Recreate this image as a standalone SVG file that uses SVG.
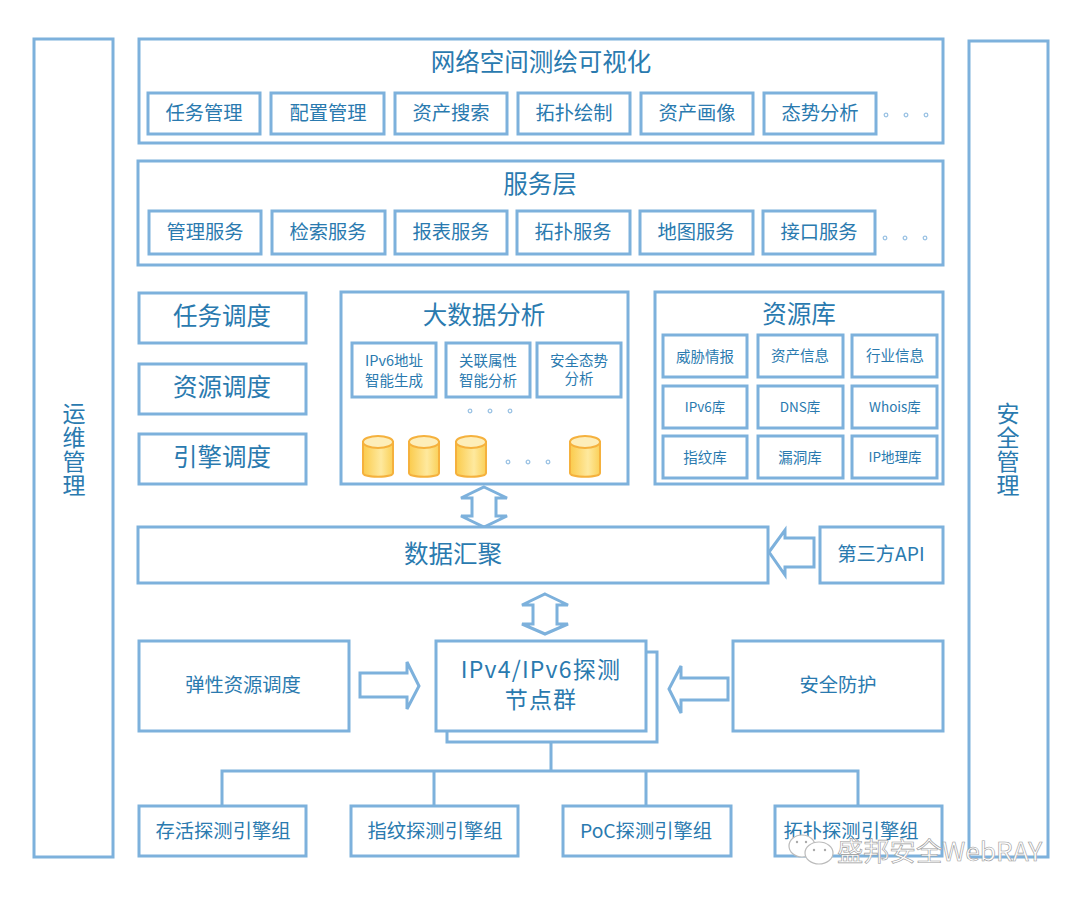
<svg xmlns="http://www.w3.org/2000/svg" width="1080" height="898" viewBox="0 0 1080 898">
<style>
text{font-family:"Noto Sans CJK SC","Noto Sans",sans-serif;fill:#2a7aaf;text-anchor:middle;dominant-baseline:central}
.b{fill:#fff;stroke:#7db1dc;stroke-width:3}
.a{fill:#fff;stroke:#7db1dc;stroke-width:3;stroke-linejoin:miter}
.l{fill:none;stroke:#7db1dc;stroke-width:3}
.t24{font-size:24.5px}.t23{font-size:23px}.t18{font-size:19.3px}.t14{font-size:14.5px}.t13{font-size:13.5px}
.v{font-size:23px;writing-mode:vertical-rl;letter-spacing:1px}
.d{fill:none;stroke:#9cc3e4;stroke-width:1.3}
.cy{fill:url(#g);stroke:#f5b13d;stroke-width:2}
.ct{fill:#fdeeba;stroke:#f5b13d;stroke-width:2}
.w{font-family:"Noto Sans CJK SC","Noto Sans",sans-serif;font-size:26.3px;fill:#fff;stroke:#999;stroke-width:.6;text-anchor:start}
</style>
<defs>
<linearGradient id="g" x1="0" x2="1" y1="0" y2="0"><stop offset="0" stop-color="#fbcb4c"/><stop offset=".6" stop-color="#fee99e"/><stop offset="1" stop-color="#fad058"/></linearGradient>
<g id="cyl"><path class="cy" d="M-15 -14V17C-15 22 15 22 15 17V-14Z"/><ellipse class="ct" cx="0" cy="-14" rx="15" ry="6"/></g>
<g id="dots"><circle class="d" cx="-20" cy="0" r="1.8"/><circle class="d" cx="0" cy="0" r="1.8"/><circle class="d" cx="20" cy="0" r="1.8"/></g>
</defs>

<g id="connectors">
<path class="l" d="M551 732V771M222 806V771H858V806M434 771V806M646 771V806"/>
<path id="arrow-bigdata" class="a" d="M484 487L507 498H496V516H507L484 527L461 516H472V498H461Z"/>
<path id="arrow-collect" class="a" d="M545 594L568 605H557V624H568L545 634L522 624H533V605H522Z"/>
<path id="arrow-api" class="a" d="M769 552L785 530V538H814V567H785V575Z"/>
<path id="arrow-elastic" class="a" d="M360 673H407V662L419 686L407 709V697H360Z"/>
<path id="arrow-protect" class="a" d="M669 689L681 666V678H728V700H681V713Z"/>
</g>

<g id="ops"><rect class="b" x="34" y="39" width="79" height="818"/><text class="v" x="74" y="450">运维管理</text></g>
<g id="sec"><rect class="b" x="969" y="41" width="79" height="816"/><text class="v" x="1008" y="450">安全管理</text></g>

<g id="viz"><rect class="b" x="139" y="39" width="804" height="104"/><text class="t24" x="541" y="60">网络空间测绘可视化</text>
<rect class="b" x="148" y="93" width="112" height="41"/><text class="t18" x="204" y="112">任务管理</text>
<rect class="b" x="271" y="93" width="113" height="41"/><text class="t18" x="328" y="112">配置管理</text>
<rect class="b" x="395" y="93" width="112" height="41"/><text class="t18" x="451" y="112">资产搜索</text>
<rect class="b" x="518" y="93" width="112" height="41"/><text class="t18" x="574" y="112">拓扑绘制</text>
<rect class="b" x="641" y="93" width="112" height="41"/><text class="t18" x="697" y="112">资产画像</text>
<rect class="b" x="764" y="93" width="112" height="41"/><text class="t18" x="820" y="112">态势分析</text>
<use href="#dots" x="906" y="115"/></g>

<g id="svc"><rect class="b" x="138" y="161" width="805" height="104"/><text class="t24" x="540" y="182">服务层</text>
<rect class="b" x="149" y="211" width="112" height="43"/><text class="t18" x="205" y="231">管理服务</text>
<rect class="b" x="272" y="211" width="113" height="43"/><text class="t18" x="328" y="231">检索服务</text>
<rect class="b" x="395" y="211" width="112" height="43"/><text class="t18" x="451" y="231">报表服务</text>
<rect class="b" x="517" y="211" width="113" height="43"/><text class="t18" x="573" y="231">拓扑服务</text>
<rect class="b" x="640" y="211" width="113" height="43"/><text class="t18" x="696" y="231">地图服务</text>
<rect class="b" x="763" y="211" width="112" height="43"/><text class="t18" x="819" y="231">接口服务</text>
<use href="#dots" x="905" y="238"/></g>

<g id="task"><rect class="b" x="139" y="293" width="167" height="50"/><text class="t24" x="222" y="314">任务调度</text></g>
<g id="res"><rect class="b" x="139" y="364" width="167" height="50"/><text class="t24" x="222" y="385">资源调度</text></g>
<g id="eng"><rect class="b" x="139" y="434" width="167" height="50"/><text class="t24" x="222" y="455">引擎调度</text></g>

<g id="bigdata"><rect class="b" x="341" y="292" width="287" height="192"/><text class="t24" x="484" y="313">大数据分析</text>
<rect class="b" x="352" y="343" width="84" height="54"/><text class="t14"><tspan x="394" y="359">IPv6地址</tspan><tspan x="394" y="379">智能生成</tspan></text>
<rect class="b" x="446" y="343" width="84" height="54"/><text class="t14"><tspan x="488" y="359">关联属性</tspan><tspan x="488" y="379">智能分析</tspan></text>
<rect class="b" x="537" y="343" width="84" height="54"/><text class="t14"><tspan x="579" y="359">安全态势</tspan><tspan x="579" y="377">分析</tspan></text>
<use href="#dots" x="490" y="411"/>
<use href="#cyl" x="378" y="456"/><use href="#cyl" x="424" y="456"/><use href="#cyl" x="471" y="456"/><use href="#cyl" x="585" y="456"/>
<use href="#dots" x="528" y="462"/></g>

<g id="lib"><rect class="b" x="655" y="292" width="288" height="192"/><text class="t24" x="799" y="312">资源库</text>
<rect class="b" x="663" y="335" width="84" height="42"/><text class="t14" x="705" y="355">威胁情报</text>
<rect class="b" x="758" y="335" width="85" height="42"/><text class="t14" x="800" y="354">资产信息</text>
<rect class="b" x="852" y="335" width="85" height="42"/><text class="t14" x="895" y="354">行业信息</text>
<rect class="b" x="663" y="386" width="84" height="42"/><text class="t13" x="705" y="406">IPv6库</text>
<rect class="b" x="758" y="386" width="85" height="42"/><text class="t13" x="800" y="406">DNS库</text>
<rect class="b" x="852" y="386" width="85" height="42"/><text class="t13" x="895" y="406">Whois库</text>
<rect class="b" x="663" y="436" width="84" height="42"/><text class="t14" x="705" y="456">指纹库</text>
<rect class="b" x="758" y="436" width="85" height="42"/><text class="t14" x="800" y="456">漏洞库</text>
<rect class="b" x="852" y="436" width="85" height="42"/><text class="t13" x="895" y="456">IP地理库</text></g>

<g id="collect"><rect class="b" x="138" y="527" width="630" height="56"/><text class="t24" x="453" y="552">数据汇聚</text></g>
<g id="api"><rect class="b" x="820" y="527" width="123" height="56"/><text class="t18" x="881" y="553">第三方API</text></g>

<g id="elastic"><rect class="b" x="139" y="641" width="210" height="90"/><text class="t18" x="243" y="684">弹性资源调度</text></g>
<g id="probe"><rect class="b" x="447" y="652" width="210" height="90"/><rect class="b" x="436" y="641" width="210" height="90"/><text class="t23" style="letter-spacing:1.2px"><tspan x="541" y="668">IPv4/IPv6探测</tspan><tspan x="541" y="698">节点群</tspan></text></g>
<g id="protect"><rect class="b" x="733" y="641" width="210" height="90"/><text class="t18" x="838" y="684">安全防护</text></g>

<g id="e1"><rect class="b" x="139" y="806" width="167" height="50"/><text class="t18" x="223" y="830">存活探测引擎组</text></g>
<g id="e2"><rect class="b" x="351" y="806" width="167" height="50"/><text class="t18" x="435" y="830">指纹探测引擎组</text></g>
<g id="e3"><rect class="b" x="563" y="806" width="168" height="50"/><text class="t18" x="646" y="830">PoC探测引擎组</text></g>
<g id="e4"><rect class="b" x="775" y="806" width="167" height="50"/><text class="t18" x="851" y="830">拓扑探测引擎组</text></g>

<g id="watermark">
<ellipse cx="802" cy="846" rx="13" ry="11" fill="#fff" stroke="#bbb" stroke-width="1.2"/>
<ellipse cx="819" cy="853" rx="14" ry="11" fill="#fff" stroke="#bbb" stroke-width="1.2"/>
<circle cx="797" cy="842" r="1.2" fill="#aaa"/><circle cx="806" cy="842" r="1.2" fill="#aaa"/><circle cx="814" cy="850" r="1.2" fill="#aaa"/><circle cx="825" cy="850" r="1.2" fill="#aaa"/>
<text class="w" x="837" y="849">盛邦安全WebRAY</text>
</g>
</svg>
